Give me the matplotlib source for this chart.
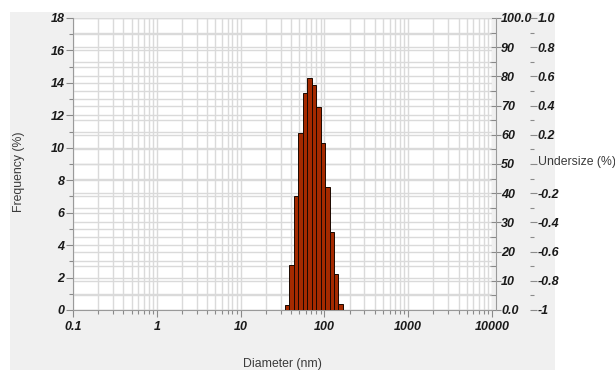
import numpy as np
import matplotlib
matplotlib.use("Agg")
import matplotlib.pyplot as plt
from matplotlib.ticker import LogLocator, MultipleLocator, FixedLocator, FixedFormatter, NullFormatter
from matplotlib.patches import Rectangle

plt.rcParams['font.family'] = ['Liberation Sans', 'DejaVu Sans']

# ---- data ----
bin_edges_nm = [33.9, 38.3, 43.3, 48.9, 55.3, 62.5, 70.6, 79.8, 90.1, 101.8,
                115.1, 130.0, 146.9, 166.0]
frequency_pct = [0.3, 2.8, 7.0, 10.9, 13.4, 14.3, 13.9, 12.5, 10.3, 7.6, 4.8, 2.2, 0.4]

x_tick_values = [0.1, 1, 10, 100, 1000, 10000]
x_tick_labels = ['0.1', '1', '10', '100', '1000', '10000']
left_ticks = [0, 2, 4, 6, 8, 10, 12, 14, 16, 18]
right1_ticks = [0, 10, 20, 30, 40, 50, 60, 70, 80, 90, 100]
right1_labels = ['0.0', '10', '20', '30', '40', '50', '60', '70', '80', '90', '100.0']
right2_ticks = [-1.0, -0.8, -0.6, -0.4, -0.2, 0.0, 0.2, 0.4, 0.6, 0.8, 1.0]
right2_labels = ['-1', '-0.8', '-0.6', '-0.4', '-0.2', '', '0.2', '0.4', '0.6', '0.8', '1.0']

W, H = 615, 370
fig = plt.figure(figsize=(W / 100, H / 100), dpi=100)
fig.patch.set_facecolor('white')
fig.patches.append(Rectangle((10 / W, 0), (555 - 10) / W, (H - 12) / H,
                             transform=fig.transFigure, facecolor='#f0f0f0',
                             edgecolor='none', zorder=-10))

pos = [73 / W, (H - 310) / H, (492 - 73) / W, (310 - 18) / H]
ax2 = fig.add_axes(pos)          # undersize 0-100 axis (background + grid)
ax3 = fig.add_axes(pos)          # -1..1 axis
ax = fig.add_axes(pos)           # main frequency axis

tick_col = '#8a8a8a'
lab_col = '#1a1a1a'
grid_col = '#dadada'
TFS = 9

def style_labels(labels):
    for t in labels:
        t.set_fontsize(TFS); t.set_fontweight('bold'); t.set_fontstyle('italic'); t.set_color(lab_col)

# ---- background axis ax2 (0-100 %) ----
ax2.set_facecolor('white')
ax2.set_xscale('log')
ax2.set_xlim(0.1, 10000)
ax2.set_ylim(0, 100)
ax2.xaxis.set_visible(False)
ax2.yaxis.tick_right()
ax2.yaxis.set_major_locator(FixedLocator(right1_ticks))
ax2.yaxis.set_major_formatter(FixedFormatter(right1_labels))
ax2.yaxis.set_minor_locator(MultipleLocator(5))
ax2.grid(True, axis='y', which='both', color=grid_col, lw=1.0)
ax2.set_axisbelow(True)
for s in ['top', 'left', 'bottom']:
    ax2.spines[s].set_visible(False)
ax2.spines['right'].set_position(('outward', 3))
ax2.spines['right'].set_color('#9a9a9a')
ax2.tick_params(axis='y', which='major', direction='inout', length=7, width=0.8,
                color=tick_col, pad=0)
ax2.tick_params(axis='y', which='minor', direction='in', length=4, width=0.8,
                color=tick_col)
style_labels(ax2.get_yticklabels())

# ---- ax3 (-1..1) ----
ax3.patch.set_visible(False)
ax3.set_ylim(-1, 1)
ax3.xaxis.set_visible(False)
ax3.yaxis.tick_right()
ax3.yaxis.set_major_locator(FixedLocator(right2_ticks))
ax3.yaxis.set_major_formatter(FixedFormatter(right2_labels))
ax3.yaxis.set_minor_locator(MultipleLocator(0.1))
for s in ['top', 'left', 'bottom', 'right']:
    ax3.spines[s].set_visible(False)
ax3.spines['right'].set_position(('outward', 27))
ax3.tick_params(axis='y', which='major', direction='out', length=5, width=0.8,
                color=tick_col, pad=1)
ax3.tick_params(axis='y', which='minor', direction='out', length=3, width=0.8,
                color=tick_col)
style_labels(ax3.get_yticklabels())

# ---- main axis ----
ax.patch.set_visible(False)
ax.set_xscale('log')
ax.set_xlim(0.1, 10000)
ax.set_ylim(0, 18)
edges = np.array(bin_edges_nm)
ax.bar(edges[:-1], frequency_pct, width=np.diff(edges), align='edge',
       color='#a52a00', edgecolor='#1a0800', linewidth=0.7, zorder=3)

ax.xaxis.set_major_locator(FixedLocator(x_tick_values))
ax.xaxis.set_major_formatter(FixedFormatter(x_tick_labels))
ax.xaxis.set_minor_locator(LogLocator(base=10, subs=np.arange(2, 10), numticks=50))
ax.xaxis.set_minor_formatter(NullFormatter())
ax.yaxis.set_major_locator(FixedLocator(left_ticks))
ax.yaxis.set_minor_locator(MultipleLocator(1))
ax.grid(True, which='both', color=grid_col, lw=1.0, zorder=0)
ax.set_axisbelow(True)
for s in ['top', 'right']:
    ax.spines[s].set_visible(False)
ax.spines['left'].set_color('#9a9a9a')
ax.spines['bottom'].set_color('#9a9a9a')
ax.tick_params(axis='both', which='major', direction='out', length=5, width=0.8,
               color=tick_col, pad=1)
ax.tick_params(axis='both', which='minor', direction='out', length=3, width=0.8,
               color=tick_col)
ax.tick_params(axis='x', which='major', pad=3)
style_labels(ax.get_xticklabels() + ax.get_yticklabels())

# ---- axis titles ----
lbl = dict(fontsize=8.8, color='#3a3a3a')
fig.text(282.5 / W, 1 - 364 / H, 'Diameter (nm)', ha='center', va='center', **lbl)
fig.text(19 / W, 1 - 172 / H, 'Frequency (%)', ha='center', va='center',
         rotation=90, **lbl)
fig.text(538 / W, 1 - 162 / H, 'Undersize (%)', ha='left', va='center', **lbl)

fig.savefig('out.png', dpi=100, facecolor=fig.get_facecolor())
